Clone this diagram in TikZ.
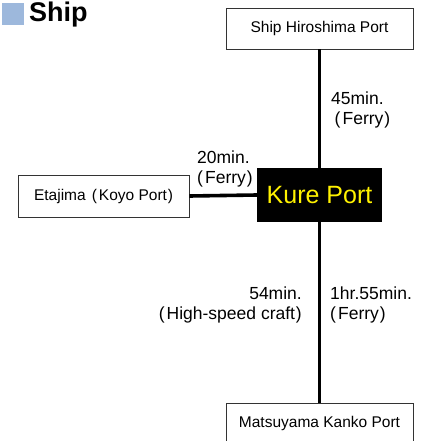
\documentclass[tikz,border=0pt]{standalone}
\usepackage{fontspec}
\setmainfont{Liberation Sans}
\usepackage{tikz}
\usetikzlibrary{positioning}
\definecolor{titlebox}{HTML}{9DB8DC}
\definecolor{kuretext}{HTML}{FFF200}
\definecolor{frame}{HTML}{333333}
\newcommand{\lpar}{\hspace{0.2em}(\hspace{0.12em}}
\newcommand{\rpar}{\hspace{0.05em})}
\tikzset{
  port/.style={draw=frame, line width=0.8pt, minimum width=187pt, minimum height=41pt, inner sep=0pt, font=\fontsize{15.5}{18}\selectfont},
  hub/.style={fill=black, text=kuretext, minimum width=125pt, minimum height=54pt, inner sep=0pt, font=\fontsize{25}{28}\selectfont},
  route/.style={draw=black, line width=3.6pt},
  lab/.style={font=\fontsize{17.5}{20}\selectfont, inner sep=0pt},
}

\begin{document}
\begin{tikzpicture}[x=1pt,y=-1pt]
  \useasboundingbox (0,0) rectangle (422,441);
  % title
  \fill[titlebox] (2,3) rectangle (24,25);
  \node[anchor=west, inner sep=0pt, font=\fontsize{27}{30}\selectfont\bfseries] (title) at (29,15) {Ship};
  % ports
  \node[port] (hiro) at (319.5,28.5) {Ship Hiroshima Port};
  \node[hub] (kure) at (319.5,195) {Kure Port};
  \node[port, minimum width=171pt, minimum height=42pt] (eta) at (103.5,196) {Etajima\hspace{0.2em}\lpar Koyo Port\rpar};
  \node[port, minimum height=40pt, anchor=north] (matsu) at (319.5,403) {Matsuyama Kanko Port};
  % routes
  \draw[route] (hiro.south) -- (kure.north);
  \draw[route] (kure.south) -- (matsu.north);
  \draw[route] (eta.east) -- (kure.west);
  % times
  \node[lab, anchor=north west, align=left] (t45) at (331,92) {45min.\\\lpar Ferry\rpar};
  \node[lab, anchor=north west, align=left] (t20) at (197,151) {20min.\\\hspace{-0.2em}\lpar Ferry\rpar};
  \node[lab, anchor=north east, align=right] (t54) at (302,287) {54min.\\\lpar High-speed craft\rpar};
  \node[lab, anchor=north west, align=left] (t155) at (330,287) {1hr.55min.\\\hspace{-0.2em}\lpar Ferry\rpar};
\end{tikzpicture}
\end{document}
